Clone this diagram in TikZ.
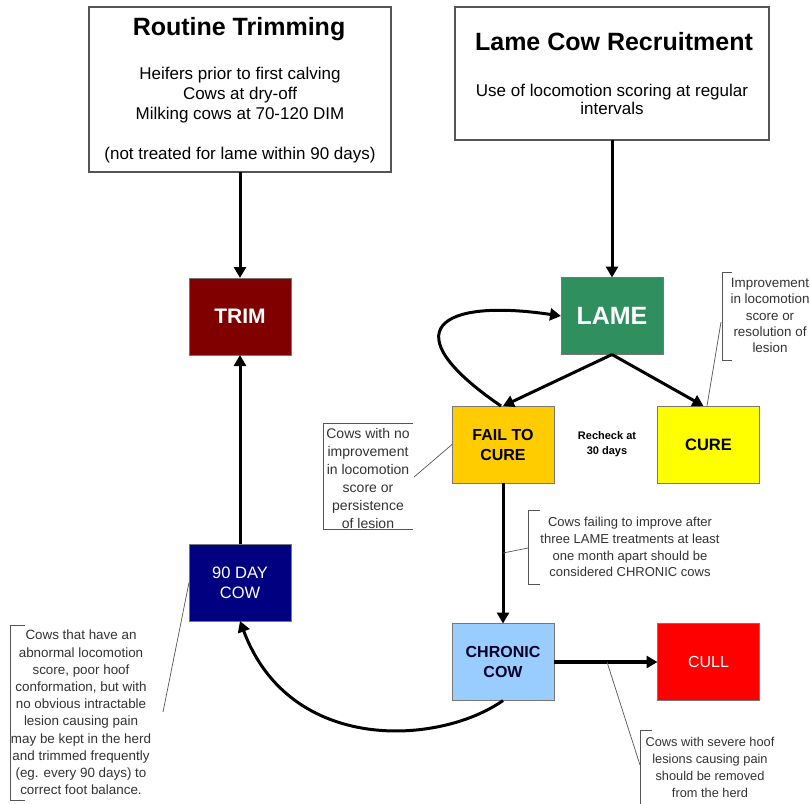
\documentclass[tikz,border=0pt]{standalone}
\usepackage{fontspec}
\setmainfont{Liberation Sans}
\usetikzlibrary{arrows.meta}
\definecolor{trimred}{HTML}{800000}
\definecolor{lamegreen}{HTML}{2F8F5F}
\definecolor{failgold}{HTML}{FFCC00}
\definecolor{cureyellow}{HTML}{FFFF00}
\definecolor{daynavy}{HTML}{000080}
\definecolor{chronicblue}{HTML}{99CCFF}
\definecolor{cullred}{HTML}{FF0000}
\definecolor{framegray}{HTML}{555555}
\definecolor{notegray}{HTML}{333333}
\begin{document}
\begin{tikzpicture}[x=1pt,y=-1pt,
 every node/.style={inner sep=0pt, outer sep=0pt},
 headbox/.style={draw=framegray, line width=1.2pt, fill=white},
 statebox/.style={draw=framegray!80, line width=0.8pt, minimum width=102pt, minimum height=77pt, align=center},
 flow/.style={line width=3pt, -{Triangle[length=11pt,width=12pt]}},
 leader/.style={draw=framegray, line width=0.7pt},
 note/.style={align=center, text=notegray},
 bodytext/.style={anchor=base, font=\fontsize{17}{20}\selectfont},
 titletext/.style={anchor=base, font=\fontsize{25}{30}\selectfont\bfseries},
]
\useasboundingbox[fill=white] (0,0) rectangle (810,803);

% header boxes
\node[headbox, minimum width=302pt, minimum height=165pt] (routine) at (240,89.5) {};
\node[titletext] (rtitle) at (239,35) {Routine Trimming};
\node[bodytext] (r1) at (240,79) {Heifers prior to first calving};
\node[bodytext] (r2) at (240,99) {Cows at dry-off};
\node[bodytext] (r3) at (240,119) {Milking cows at 70-120 DIM};
\node[bodytext] (r4) at (240,159) {(not treated for lame within 90 days)};

\node[headbox, minimum width=314pt, minimum height=133pt] (lamebox) at (612,73.5) {};
\node[titletext] (ltitle) at (614,50) {Lame Cow Recruitment};
\node[bodytext] (l1) at (612,96) {Use of locomotion scoring at regular};
\node[bodytext] (l2) at (612,114) {intervals};

% state boxes
\node[statebox, fill=trimred, text=white, font=\fontsize{21}{24}\selectfont\bfseries] (trim) at (240,316.5) {TRIM};
\node[statebox, fill=lamegreen, text=white, font=\fontsize{25}{28}\selectfont\bfseries] (lame) at (612,316) {LAME};
\node[statebox, fill=failgold, font=\fontsize{16}{20}\selectfont\bfseries] (fail) at (503,444.5) {FAIL TO\\CURE};
\node[statebox, fill=cureyellow, font=\fontsize{16.5}{20}\selectfont\bfseries] (cure) at (708.5,444.5) {CURE};
\node[statebox, fill=daynavy, text=white, font=\fontsize{16.5}{20}\selectfont] (day) at (240,582.5) {90 DAY\\COW};
\node[statebox, fill=chronicblue, text=black!85!blue, font=\fontsize{16}{20}\selectfont\bfseries] (chronic) at (503,662) {CHRONIC\\COW};
\node[statebox, fill=cullred, text=white, font=\fontsize{16}{20}\selectfont] (cull) at (708.5,662) {CULL};

\node[align=center, font=\fontsize{11}{15}\selectfont\bfseries] (recheck) at (607,444) {Recheck at\\30 days};

% flows
\draw[flow] (routine.south) -- (trim.north);
\draw[flow] (lamebox.south) -- (lame.north);
\draw[flow] (lame.south) -- (fail.north);
\draw[flow] (lame.south) -- ([xshift=-5pt]cure.north);
\draw[flow] ([xshift=-2pt]fail.north) .. controls (390,330) and (440,298) .. (lame.west);
\draw[flow] (fail.south) -- (chronic.north);
\draw[flow, line width=3.5pt] (chronic.east) -- (cull.west);
\draw[flow] (chronic.south) .. controls (440,745) and (290,755) .. (day.south);
\draw[flow] (day.north) -- (trim.south);

% callout: cure
\draw[leader] (732,272) -- (722,272) -- (722,360) -- (732,360);
\node[note, font=\fontsize{13.4}{16.2}\selectfont] (curenote) at (770,315.5) {Improvement\\in locomotion\\score or\\resolution of\\lesion};
\coordinate (curelead) at (721,322);
\draw[leader] (curelead) -- ([xshift=-1.5pt]cure.north);

% callout: fail
\draw[leader] (413,423) -- (323,423) -- (323,529) -- (413,529);
\node[note, font=\fontsize{14}{18}\selectfont] (failnote) at (368,478) {Cows with no\\improvement\\in locomotion\\score or\\persistence\\of lesion};
\coordinate (faillead) at (414,477);
\draw[leader] (faillead) -- (fail.west);

% callout: chronic
\draw[leader] (540,510) -- (528,510) -- (528,584) -- (540,584);
\node[note, font=\fontsize{13}{16.7}\selectfont] (chronicnote) at (630,547) {Cows failing to improve after\\three LAME treatments at least\\one month apart should be\\considered CHRONIC cows};
\coordinate (chroniclead) at (528,548);
\coordinate (chronicarrow) at (503,553);
\draw[leader] (chroniclead) -- (chronicarrow);

% callout: 90 day cow
\draw[leader] (25,625) -- (10,625) -- (10,800) -- (25,800);
\node[note, font=\fontsize{13.4}{17.2}\selectfont] (daynote) at (81,712.5) {Cows that have an\\abnormal locomotion\\score, poor hoof\\conformation, but with\\no obvious intractable\\lesion causing pain\\may be kept in the herd\\and trimmed frequently\\(eg. every 90 days) to\\correct foot balance.};
\coordinate (daylead) at (163,712);
\draw[leader] (daylead) -- (day.west);

% callout: cull
\draw[leader] (652,730) -- (640,730) -- (640,806);
\node[note, font=\fontsize{12.8}{17}\selectfont] (cullnote) at (710,767.5) {Cows with severe hoof\\lesions causing pain\\should be removed\\from the herd};
\coordinate (culllead) at (640,765);
\coordinate (cullarrow) at (607,662);
\draw[leader] (cullarrow) -- (culllead);
\end{tikzpicture}
\end{document}
